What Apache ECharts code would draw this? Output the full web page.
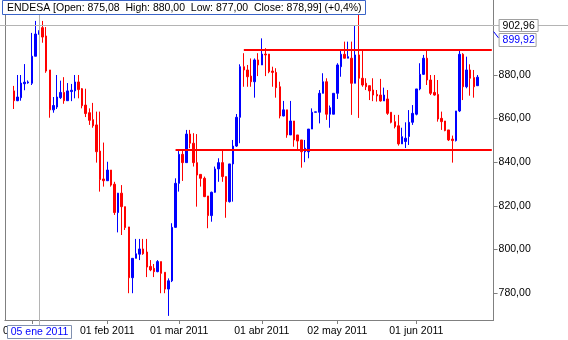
<!DOCTYPE html>
<html><head><meta charset="utf-8">
<script src="https://cdn.jsdelivr.net/npm/echarts@6/dist/echarts.min.js"></script>
<style>html,body{margin:0;padding:0;background:#fff}#c{width:568px;height:340px}</style>
</head><body><div id="c"></div>
<script>
// ---- data (trading days 27 Dec 2010 .. 24 Jun 2011) ----
const firstDay = '2010-12-27', lastDay = '2011-06-24';
const open = [
872.7,868.2,869.6,876.0,876.4,876.2,888.6,898.8,901.7,897.9,
882.3,864.0,865.3,869.6,872.0,868.2,872.4,872.7,876.8,873.7,
866.2,862.7,859.5,857.1,845.1,832.3,831.5,836.4,829.9,816.9,
825.8,819.6,810.3,787.0,795.9,797.8,800.2,798.8,792.2,791.3,
789.8,794.4,789.5,781.8,785.6,810.1,830.3,843.6,839.8,852.9,
848.7,839.8,834.4,832.6,824.5,815.5,826.2,836.9,839.8,833.4,
821.9,839.2,847.4,860.6,883.8,882.3,879.5,876.9,886.9,884.6,
889.6,889.6,881.8,881.2,874.6,861.2,864.0,852.5,858.9,852.5,
850.2,844.8,844.8,855.2,862.9,862.9,871.6,876.9,862.0,862.0,
871.6,883.8,889.5,887.7,887.7,876.2,889.2,878.5,876.2,875.1,
873.1,871.1,870.8,868.1,869.0,862.9,858.6,856.7,848.4,849.5,
851.8,858.3,862.0,873.6,880.3,887.7,877.7,872.0,871.1,860.1,
858.9,854.8,850.6,849.9,863.5,889.5,874.6,882.3,878.8,875.08];
const close = [
868.2,869.9,876.3,876.7,876.8,888.6,898.8,899.92,897.4,881.8,
864.0,866.0,869.9,872.0,868.2,872.7,873.0,876.8,873.3,865.9,
862.3,859.2,856.7,844.8,832.0,831.5,836.4,829.5,816.9,825.8,
819.6,810.0,787.0,795.9,798.0,800.2,798.0,791.9,790.6,789.8,
794.4,789.0,781.8,785.6,810.1,830.3,843.6,839.8,852.9,848.7,
839.8,834.1,832.6,824.2,815.5,826.2,836.9,839.8,833.4,821.9,
839.2,847.4,860.6,883.8,882.3,879.2,876.9,886.9,884.6,889.6,
889.2,881.5,881.2,874.2,861.2,864.0,852.5,858.9,850.2,849.7,
844.8,846.4,855.2,862.9,863.1,871.6,876.9,862.0,865.0,871.6,
884.6,889.5,887.7,888.4,876.2,889.2,878.5,875.4,874.6,872.7,
870.8,870.4,868.1,870.8,862.4,858.3,856.3,848.4,851.7,851.0,
858.3,862.4,873.6,880.3,887.7,877.7,871.6,870.8,859.8,858.6,
854.5,850.2,849.9,863.5,889.5,874.6,882.3,878.5,874.6,878.99];
const low = [
864.4,868.0,868.2,873.0,876.0,875.4,888.6,898.5,894.8,881.0,
860.4,862.7,864.4,869.0,866.8,868.2,868.0,869.3,869.3,864.7,
860.7,857.1,855.8,839.8,826.5,828.8,831.5,828.8,815.8,807.8,
806.6,808.9,779.9,779.9,795.9,795.1,797.5,787.3,790.0,787.3,
789.5,779.9,779.9,769.5,785.0,810.0,826.5,831.4,839.8,846.4,
838.0,819.6,828.8,824.0,809.7,812.7,826.0,831.0,831.0,814.5,
821.5,821.9,847.0,848.7,874.6,874.6,874.6,869.6,879.5,884.6,
879.5,880.8,874.6,869.6,860.1,861.0,851.2,852.5,847.1,845.6,
837.5,840.0,841.8,855.2,862.9,857.8,871.6,859.4,855.8,862.0,
869.0,879.2,887.7,887.7,861.7,876.2,860.3,874.6,873.1,868.5,
868.0,867.8,867.8,868.1,861.7,857.8,855.5,847.6,848.4,846.5,
847.9,857.1,861.5,873.0,880.0,875.4,870.8,870.5,858.6,854.8,
854.2,849.7,839.8,849.5,863.0,868.5,873.9,870.5,869.6,875.0];
const high = [
875.0,880.0,880.0,885.0,877.5,899.3,904.8,900.5,904.8,902.0,
882.3,869.9,880.0,877.4,879.0,876.3,875.9,880.0,880.0,874.0,
873.7,864.7,867.2,863.2,863.2,849.0,840.2,836.4,831.0,825.9,
829.5,819.6,810.3,795.9,804.8,804.8,804.8,804.8,795.1,793.3,
795.1,794.4,789.5,786.7,812.0,832.6,845.1,845.1,854.8,854.8,
853.3,852.9,834.4,833.4,824.5,826.5,838.0,841.8,845.6,833.4,
839.2,850.2,862.1,884.9,890.0,884.6,887.6,887.6,890.0,896.8,
892.3,889.6,883.8,883.1,876.9,868.1,864.0,868.1,858.9,852.5,
850.2,850.2,855.2,864.7,863.1,873.1,880.8,878.5,866.0,871.6,
885.4,891.5,895.3,895.3,895.3,902.9,915.0,891.5,878.5,875.1,
878.5,873.1,878.2,874.2,873.1,862.9,861.7,861.7,855.8,858.3,
863.9,866.2,873.6,885.4,889.2,891.5,880.0,880.0,877.7,863.2,
858.9,854.8,852.2,863.5,891.0,890.0,888.4,884.9,882.3,880.0];
const tickDates  = ['2011-01-03','2011-02-01','2011-03-01','2011-04-01','2011-05-02','2011-06-01'];
const tickLabels = ['03 ene 2011','01 feb 2011','01 mar 2011','01 abr 2011','02 may 2011','01 jun 2011'];
const yTicks = [780,800,820,840,860,880];
const resistance = {from: '2011-03-25', value: 891.5};
const support = {from: '2011-02-28', value: 845.6};
const cursorDate = '2011-01-05', cursorDateLabel = '05 ene 2011';
const cursorPrice = 902.96, lastClose = 899.92;
const header = 'ENDESA [Open: 875,08  High: 880,00  Low: 877,00  Close: 878,99] (+0,4%)';

// ---- categories: weekdays, plus empty slots at both ends ----
function iso(d){return d.toISOString().slice(0,10);}
const dates = [];
for (let d = new Date(firstDay+'T00:00:00Z'); iso(d) <= lastDay; d.setUTCDate(d.getUTCDate()+1)) {
  const wd = d.getUTCDay(); if (wd !== 0 && wd !== 6) dates.push(iso(d));
}
const padL = ['pL0','pL1'], padR = ['pR0','pR1','pR2','pR3'];
const cats = padL.concat(dates, padR);
const candles = dates.map((d,i)=>[d, open[i], close[i], low[i], high[i]]);
const fmt = v => v.toFixed(2).replace('.', ',');
const FONT = '"Liberation Sans", Arial, sans-serif';
const YMIN = 767.61, YMAX = 914.40;

const chart = echarts.init(document.getElementById('c'), null, {renderer:'canvas'});
const showTick = (idx, val) => tickDates.indexOf(val) >= 0;
chart.setOption({
  animation: false,
  backgroundColor: '#ffffff',
  grid: {left: 4, top: 0, width: 489.6, height: 320, containLabel: false},
  xAxis: {
    type: 'category', data: cats, boundaryGap: true,
    axisLine: {show: true, lineStyle: {color: '#808080', width: 1}},
    axisTick: {show: true, interval: showTick, alignWithLabel: true, length: 4, lineStyle: {color: '#808080'}},
    axisLabel: {interval: showTick, formatter: v => { const k = tickDates.indexOf(v); return k >= 0 ? tickLabels[k] : ''; },
      color: '#000', fontFamily: FONT, fontSize: 10.5, margin: 6},
    splitLine: {show: false}
  },
  yAxis: [{
    type: 'value', position: 'right', min: YMIN, max: YMAX, scale: true,
    axisLine: {show: true, lineStyle: {color: '#808080', width: 1}},
    axisTick: {show: true, customValues: yTicks, length: 4, lineStyle: {color: '#808080'}},
    axisLabel: {customValues: yTicks, formatter: fmt, color: '#000', fontFamily: FONT, fontSize: 10.5, margin: 5},
    splitLine: {show: false}
  }, {
    type: 'value', position: 'left', min: YMIN, max: YMAX,
    axisLine: {show: true, lineStyle: {color: '#808080', width: 1}},
    axisTick: {show: false}, axisLabel: {show: false}, splitLine: {show: false}
  }],
  series: [{
    type: 'candlestick', data: candles, encode: {x: 0, y: [1,2,3,4]},
    barWidth: 2, clip: true,
    itemStyle: {color: '#0000ff', color0: '#ff0000', borderColor: '#0000ff', borderColor0: '#ff0000', borderWidth: 1},
    markLine: {
      silent: true, symbol: ['none','none'], animation: false,
      label: {show: false},
      lineStyle: {color: '#ff0000', width: 2, type: 'solid'},
      data: [
        [{coord: [resistance.from, resistance.value]}, {coord: [padR[padR.length-1], resistance.value]}],
        [{coord: [support.from, support.value]}, {coord: [padR[padR.length-1], support.value]}]
      ]
    }
  }]
});

// ---- crosshair, value tags and header, placed through the chart's own scales ----
const p = chart.convertToPixel({gridIndex: 0}, [cursorDate, cursorPrice]);
const pc = chart.convertToPixel({gridIndex: 0}, [cursorDate, lastClose]);
const axisX = chart.convertToPixel({gridIndex: 0}, [padR[padR.length-1], cursorPrice])[0] + 1.8;
const bottomY = chart.convertToPixel({gridIndex: 0}, [cursorDate, YMIN])[1];
const gray = '#b4b4b4';
const tagY1 = Math.round(p[1]) - 6, tagY2 = tagY1 + 14;
chart.setOption({graphic: [
  {type: 'line', z: 50, shape: {x1: 0, y1: Math.round(p[1]) + 0.5, x2: 568, y2: Math.round(p[1]) + 0.5}, style: {stroke: gray, lineWidth: 1}},
  {type: 'line', z: 50, shape: {x1: Math.round(p[0]) + 0.5, y1: 14, x2: Math.round(p[0]) + 0.5, y2: bottomY + 6}, style: {stroke: gray, lineWidth: 1}},
  // header
  {type: 'rect', z: 60, shape: {x: 2.5, y: 0.5, width: 363, height: 14}, style: {fill: '#fff', stroke: '#3a64c8', lineWidth: 1}},
  {type: 'text', z: 61, x: 7, y: 8, style: {text: header, fill: '#000', font: '10.5px ' + FONT, textVerticalAlign: 'middle'}},
  // date tag
  {type: 'rect', z: 60, shape: {x: Math.round(p[0]) - 31.5, y: bottomY + 5.5, width: 64, height: 13}, style: {fill: '#fff', stroke: '#8090b0', lineWidth: 1}},
  {type: 'text', z: 61, x: Math.round(p[0]) + 0.5, y: bottomY + 12.5, style: {text: cursorDateLabel, fill: '#0000ff', font: '10.5px ' + FONT, textAlign: 'center', textVerticalAlign: 'middle'}},
  // price tags
  {type: 'rect', z: 60, shape: {x: axisX + 5.5, y: tagY1 + 0.5, width: 39, height: 12}, style: {fill: '#fff', stroke: '#a0a0a0', lineWidth: 1}},
  {type: 'text', z: 61, x: axisX + 9, y: tagY1 + 7, style: {text: fmt(cursorPrice), fill: '#000', font: '10.5px ' + FONT, textVerticalAlign: 'middle'}},
  {type: 'line', z: 60, shape: {x1: axisX, y1: pc[1], x2: axisX + 5, y2: tagY2 + 5}, style: {stroke: '#0000ff', lineWidth: 1}},
  {type: 'rect', z: 60, shape: {x: axisX + 5.5, y: tagY2 + 0.5, width: 37, height: 13}, style: {fill: '#fff', stroke: '#a0a0a0', lineWidth: 1}},
  {type: 'text', z: 61, x: axisX + 9, y: tagY2 + 7.5, style: {text: fmt(lastClose), fill: '#0000ff', font: '10.5px ' + FONT, textVerticalAlign: 'middle'}}
]});
</script></body></html>
